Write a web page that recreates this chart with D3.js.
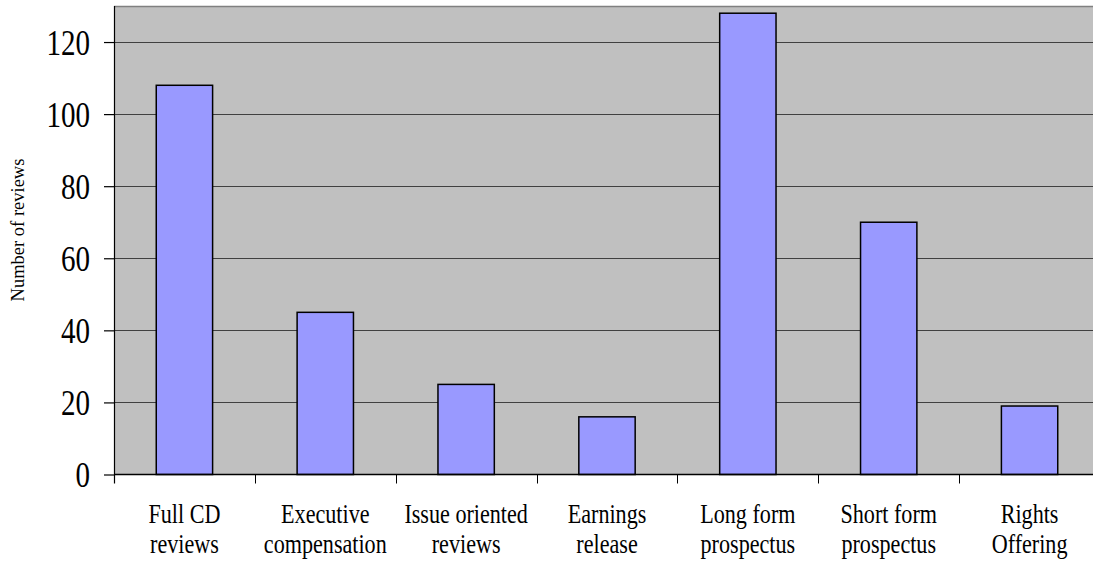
<!DOCTYPE html>
<html>
<head>
<meta charset="utf-8">
<script src="https://cdn.jsdelivr.net/npm/d3@7"></script>
<style>
  html, body { margin: 0; padding: 0; background: #ffffff; }
  svg { display: block; }
  text { font-family: "Liberation Serif", "Times New Roman", serif; fill: #000; }
</style>
</head>
<body>
<div id="chart"></div>
<script>
// Review counts by filing type
const categories = [
  ["Full CD", "reviews"],
  ["Executive", "compensation"],
  ["Issue oriented", "reviews"],
  ["Earnings", "release"],
  ["Long form", "prospectus"],
  ["Short form", "prospectus"],
  ["Rights", "Offering"]
];
const reviews = [108, 45, 25, 16, 128, 70, 19];
const yTicks = [0, 20, 40, 60, 80, 100, 120];
const yTitle = "Number of reviews";

const W = 1093, H = 562;
const plot = { left: 114, right: 1100, top: 6, bottom: 474.5 };
const squeeze = 0.82; // horizontal condensing of the serif lettering

const svg = d3.select("#chart").append("svg")
  .attr("width", W).attr("height", H);

const keys = categories.map(c => c.join(" "));
const x = d3.scaleBand().domain(keys)
  .range([plot.left, plot.right])
  .paddingInner(0.6).paddingOuter(0.3);
const y = d3.scaleLinear().domain([0, 130]).range([plot.bottom, plot.top]);

// plot background
svg.append("rect")
  .attr("x", plot.left).attr("y", plot.top)
  .attr("width", plot.right - plot.left).attr("height", plot.bottom - plot.top)
  .attr("fill", "#c0c0c0");

// top border
svg.append("line")
  .attr("x1", plot.left).attr("x2", plot.right)
  .attr("y1", plot.top + 0.5).attr("y2", plot.top + 0.5)
  .attr("stroke", "#808080").attr("stroke-width", 1.5);

// horizontal gridlines
svg.append("g").selectAll("line")
  .data(yTicks.filter(v => v > 0))
  .join("line")
  .attr("x1", plot.left).attr("x2", plot.right)
  .attr("y1", d => Math.round(y(d)) + 0.5).attr("y2", d => Math.round(y(d)) + 0.5)
  .attr("stroke", "#404040").attr("stroke-width", 1);

// bars
svg.append("g").selectAll("rect")
  .data(reviews)
  .join("rect")
  .attr("x", (d, i) => x(keys[i]))
  .attr("y", d => y(d))
  .attr("width", x.bandwidth())
  .attr("height", d => y(0) - y(d))
  .attr("fill", "#9999ff")
  .attr("stroke", "#000")
  .attr("stroke-width", 1.5);

// y axis
const yAxis = svg.append("g")
  .attr("transform", `translate(${plot.left},0)`)
  .call(d3.axisLeft(y).tickValues(yTicks).tickSize(10).tickPadding(0).tickFormat(d3.format("d")));
yAxis.select(".domain").attr("stroke", "#000").attr("stroke-width", 1.2)
  .attr("d", `M0.5,${plot.top}V${plot.bottom + 9}`);
yAxis.selectAll(".tick line").attr("stroke", "#000").attr("stroke-width", 1.2);
yAxis.selectAll(".tick text")
  .attr("x", null).attr("dy", null)
  .attr("font-family", "Liberation Serif, serif")
  .attr("font-size", 35)
  .attr("text-anchor", "end")
  .attr("transform", `translate(-24,12) scale(0.83,1)`);

// x axis: ticks at category boundaries
const bounds = d3.range(categories.length + 1).map(i => plot.left + i * x.step());
svg.append("line")
  .attr("x1", plot.left).attr("x2", plot.right)
  .attr("y1", plot.bottom).attr("y2", plot.bottom)
  .attr("stroke", "#000").attr("stroke-width", 1.5);
svg.append("g").selectAll("line")
  .data(bounds.slice(1))
  .join("line")
  .attr("x1", d => Math.round(d) + 0.5).attr("x2", d => Math.round(d) + 0.5)
  .attr("y1", plot.bottom).attr("y2", plot.bottom + 9)
  .attr("stroke", "#000").attr("stroke-width", 1);

// category labels (two lines)
const labels = svg.append("g").selectAll("g")
  .data(categories)
  .join("g")
  .attr("transform", (d, i) => `translate(${x(keys[i]) + x.bandwidth() / 2},0) scale(${squeeze},1)`);
labels.each(function (lines) {
  const g = d3.select(this);
  lines.forEach((t, j) => {
    g.append("text")
      .attr("x", 0).attr("y", 523 + j * 30)
      .attr("text-anchor", "middle")
      .attr("font-size", 27)
      .text(t);
  });
});

// y axis title
svg.append("text")
  .attr("transform", `translate(24,230) rotate(-90)`)
  .attr("text-anchor", "middle")
  .attr("font-size", 18.5)
  .text(yTitle);
</script>
</body>
</html>
